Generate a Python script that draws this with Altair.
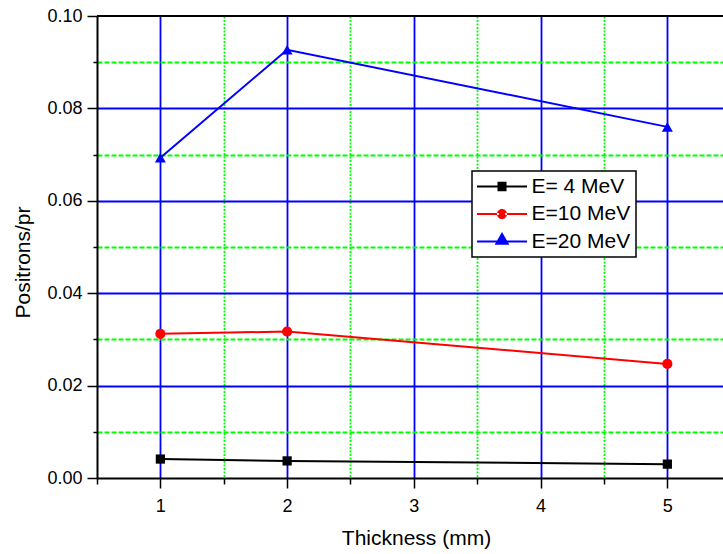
import altair as alt
import pandas as pd

# ---- data ----
thickness = [1, 2, 5]
e4 = [0.0041, 0.0037, 0.0030]
e10 = [0.0312, 0.0317, 0.0247]
e20 = [0.0693, 0.0927, 0.0760]
series_names = ["E= 4 MeV", "E=10 MeV", "E=20 MeV"]
series_colors = ["#000000", "#FF0000", "#0000FF"]
series_shapes = ["square", "circle", "triangle-up"]
series_sizes = [85, 121, 300]
x_ticks = [0.5, 1, 1.5, 2, 2.5, 3, 3.5, 4, 4.5, 5]
y_ticks = [0.0, 0.01, 0.02, 0.03, 0.04, 0.05, 0.06, 0.07, 0.08, 0.09, 0.10]
x_title = "Thickness (mm)"
y_title = "Positrons/pr"

# legend glyphs: line segment with the marker in its middle
# (unit = half of sqrt(symbolSize) pixels)
BAR = "M-2.38,-0.1H-0.3V0.1H-2.38Z M0.3,-0.1H2.38V0.1H0.3Z "
legend_paths = [
    BAR + "M-0.43,-0.45H0.43V0.45H-0.43Z",
    BAR + "M-0.48,0A0.48,0.48 0 1,0 0.48,0A0.48,0.48 0 1,0 -0.48,0Z",
    BAR + "M0,-0.9L0.7,0.3L-0.7,0.3Z",
]

rows = []
for name, vals in zip(series_names, [e4, e10, e20]):
    for t, v in zip(thickness, vals):
        rows.append({"series": name, "t": t, "v": v})
df = pd.DataFrame(rows)

FONT = "Liberation Sans"

x_major = "abs(datum.value - round(datum.value)) < 0.001"
y_major = "abs(datum.value * 50 - round(datum.value * 50)) < 0.001"

x_axis = alt.Axis(
    values=x_ticks,
    title=x_title,
    titleFont=FONT, titleFontSize=21, titleFontWeight="normal", titleColor="black",
    titleX=319, titleY=66, titleBaseline="alphabetic",
    labelExpr=f"({x_major}) ? format(datum.value, 'd') : ''",
    labelFont=FONT, labelFontSize=18, labelColor="black",
    labelBaseline="alphabetic", labelPadding=23, labelFlush=False, labelOverlap=False,
    tickSize={"condition": {"test": x_major, "value": 10}, "value": 6},
    tickColor="black", tickWidth=1.5,
    domainColor="black", domainWidth=2,
    grid=True,
    gridColor={"condition": {"test": x_major, "value": "#0000FF"}, "value": "#00FF00"},
    gridDash={"condition": {"test": x_major, "value": []}, "value": [2, 1.5]},
    gridWidth=1.8,
    gridOpacity={"condition": {"test": "datum.value < 0.75", "value": 0}, "value": 1},
)

y_axis = alt.Axis(
    values=y_ticks,
    title=y_title,
    titleFont=FONT, titleFontSize=21, titleFontWeight="normal", titleColor="black",
    titleX=-74, titleY=246, titleBaseline="middle", titleAngle=270,
    labelExpr=f"({y_major}) ? format(datum.value, '.2f') : ''",
    labelFont=FONT, labelFontSize=18, labelColor="black",
    labelPadding=5, labelFlush=False, labelOverlap=False,
    tickSize={"condition": {"test": y_major, "value": 10}, "value": 4},
    tickColor="black", tickWidth=1.5,
    domainColor="black", domainWidth=2,
    grid=True,
    gridColor={"condition": {"test": y_major, "value": "#0000FF"}, "value": "#00FF00"},
    gridDash={"condition": {"test": y_major, "value": []}, "value": [5, 2]},
    gridWidth=1.8,
    gridOpacity={"condition": {"test": "datum.value < 0.005 || datum.value > 0.095", "value": 0}, "value": 1},
)

x_enc = alt.X("t:Q", scale=alt.Scale(domain=[0.5, 5.439], nice=False, zero=False), axis=x_axis)
y_enc = alt.Y("v:Q", scale=alt.Scale(domain=[0, 0.1], nice=False, zero=False), axis=y_axis)
color_scale = alt.Scale(domain=series_names, range=series_colors)

base = alt.Chart(df).encode(x=x_enc, y=y_enc)

lines = base.mark_line(strokeWidth=2).encode(
    color=alt.Color("series:N", scale=color_scale, legend=None),
    detail="series:N",
)

points = base.mark_point(filled=True, opacity=1, strokeWidth=1).encode(
    color=alt.Color("series:N", scale=color_scale, legend=None),
    shape=alt.Shape("series:N", scale=alt.Scale(domain=series_names, range=series_shapes), legend=None),
    size=alt.Size("series:N", scale=alt.Scale(domain=series_names, range=series_sizes), legend=None),
)

leg = alt.Legend(
    title=None, orient="none", legendX=375, legendY=155, direction="vertical",
    fillColor="white", strokeColor="black", padding=5,
    symbolSize=441, symbolStrokeWidth=0, symbolOpacity=1, symbolOffset=14.5,
    symbolFillColor="black",
    labelFont=FONT, labelFontSize=21, labelColor="black", labelOffset=19,
    rowPadding=5.5, labelLimit=300,
)

legend_layer = base.mark_point(filled=True, opacity=0).encode(
    fill=alt.Fill("series:N", scale=alt.Scale(domain=series_names, range=series_colors), legend=leg),
    shape=alt.Shape("series:N", scale=alt.Scale(domain=series_names, range=legend_paths), legend=leg),
)

top_line = alt.Chart(pd.DataFrame({"v": [y_ticks[-1]]})).mark_rule(
    color="black", strokeWidth=2
).encode(y=y_enc)

chart = alt.layer(lines, points, legend_layer, top_line).resolve_scale(
    shape="independent", fill="independent"
).resolve_legend(
    shape="independent", fill="independent"
).properties(
    width=626, height=462,
    autosize=alt.AutoSizeParams(type="none"),
    padding={"left": 97, "top": 16, "right": 0, "bottom": 76},
    background="white",
).configure_view(stroke=None).configure_legend(strokeWidth=1.5)

chart.save("out.html", embed_options={"renderer": "svg", "actions": False})
